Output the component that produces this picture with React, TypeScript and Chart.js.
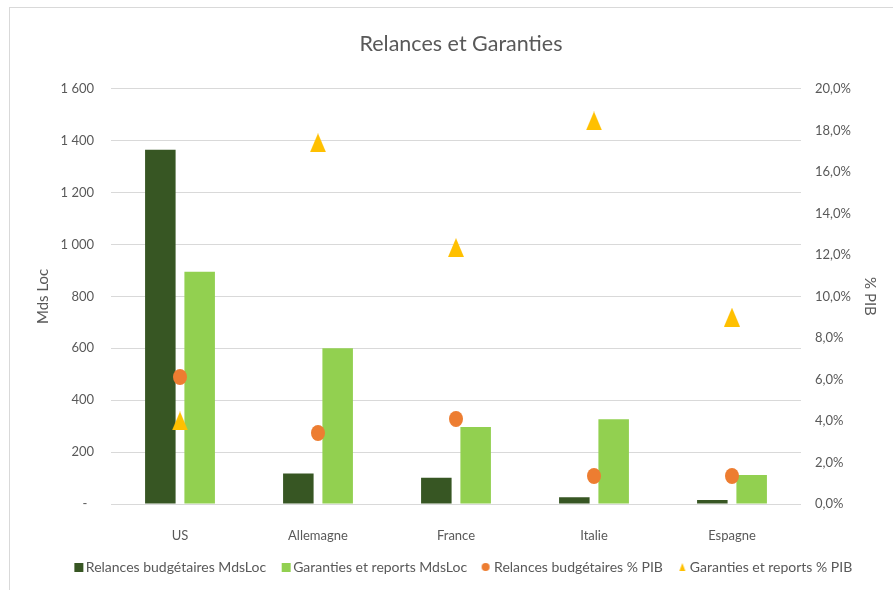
import React, { useEffect, useRef } from "react";
import { Chart, registerables } from "chart.js";

Chart.register(...registerables);

const categories = ["US", "Allemagne", "France", "Italie", "Espagne"];
const relancesMds = [1365, 118, 101, 26, 15];
const garantiesMds = [895, 600, 297, 327, 112];
const relancesPct = [6.12, 3.42, 4.1, 1.35, 1.35];
const garantiesPct = [4.0, 17.4, 12.35, 18.45, 9.0];
const seriesLabels = [
  "Relances budgétaires MdsLoc",
  "Garanties et reports MdsLoc",
  "Relances budgétaires % PIB",
  "Garanties et reports % PIB",
];
const chartTitle = "Relances et Garanties";
const leftTitle = "Mds Loc";
const rightTitle = "% PIB";
const leftMax = 1600;
const leftStep = 200;
const rightMax = 20;
const rightStep = 2;

const FONT = "Lato, 'Noto Sans', sans-serif";
const TEXT = "#595959";
const GRID = "#d9d9d9";
const DARK = "#375623";
const LIGHT = "#92D050";
const ORANGE = "#ED7D31";
const YELLOW = "#FFC000";

function makeCanvas(w: number, h: number, draw: (ctx: CanvasRenderingContext2D) => void) {
  const c = document.createElement("canvas");
  c.width = w;
  c.height = h;
  const ctx = c.getContext("2d")!;
  draw(ctx);
  return c;
}

function fmtLeft(v: number) {
  if (v === 0) return "-  ";
  if (v >= 1000) return Math.floor(v / 1000) + " " + String(v % 1000).padStart(3, "0");
  return String(v);
}

export default function App() {
  const ref = useRef<HTMLCanvasElement>(null);

  useEffect(() => {
    const triMarker = makeCanvas(16, 19, (ctx) => {
      ctx.fillStyle = YELLOW;
      ctx.beginPath();
      ctx.moveTo(8, 0);
      ctx.lineTo(16, 19);
      ctx.lineTo(0, 19);
      ctx.closePath();
      ctx.fill();
    });
    const dotMarker = makeCanvas(14, 16, (ctx) => {
      ctx.fillStyle = ORANGE;
      ctx.beginPath();
      ctx.ellipse(7, 8, 7, 8, 0, 0, Math.PI * 2);
      ctx.fill();
    });
    const legendStyles = [
      makeCanvas(20, 9, (ctx) => {
        ctx.fillStyle = DARK;
        ctx.fillRect(10, 0, 9, 9);
      }),
      makeCanvas(20, 9, (ctx) => {
        ctx.fillStyle = LIGHT;
        ctx.fillRect(10, 0, 9, 9);
      }),
      makeCanvas(16, 8, (ctx) => {
        ctx.fillStyle = ORANGE;
        ctx.beginPath();
        ctx.arc(11, 4, 4, 0, Math.PI * 2);
        ctx.fill();
      }),
      makeCanvas(16, 8, (ctx) => {
        ctx.fillStyle = YELLOW;
        ctx.beginPath();
        ctx.moveTo(12, 0);
        ctx.lineTo(15, 8);
        ctx.lineTo(9, 8);
        ctx.closePath();
        ctx.fill();
      }),
    ];

    const chart = new Chart(ref.current!, {
      type: "bar",
      data: {
        labels: categories,
        datasets: [
          {
            type: "bar",
            label: seriesLabels[0],
            data: relancesMds,
            backgroundColor: DARK,
            yAxisID: "y",
            order: 2,
            categoryPercentage: 0.57,
            barPercentage: 0.776,
          },
          {
            type: "bar",
            label: seriesLabels[1],
            data: garantiesMds,
            backgroundColor: LIGHT,
            yAxisID: "y",
            order: 2,
            categoryPercentage: 0.57,
            barPercentage: 0.776,
          },
          {
            type: "line",
            label: seriesLabels[2],
            data: relancesPct,
            yAxisID: "y1",
            showLine: false,
            pointStyle: dotMarker as any,
            pointRadius: 8,
            pointHoverRadius: 8,
            backgroundColor: ORANGE,
            borderColor: ORANGE,
            order: 1,
          },
          {
            type: "line",
            label: seriesLabels[3],
            data: garantiesPct,
            yAxisID: "y1",
            showLine: false,
            pointStyle: triMarker as any,
            pointRadius: 8,
            pointHoverRadius: 8,
            backgroundColor: YELLOW,
            borderColor: YELLOW,
            order: 1,
          },
        ] as any,
      },
      options: {
        responsive: false,
        animation: false,
        devicePixelRatio: 1,
        layout: { padding: { left: 29, right: 0, top: 0, bottom: 6 } },
        plugins: {
          tooltip: { enabled: false },
          title: {
            display: true,
            text: chartTitle,
            color: TEXT,
            font: { family: FONT, size: 21.5, weight: "normal" as any },
            padding: { top: 31, bottom: 32 },
          },
          legend: {
            display: true,
            position: "bottom",
            labels: {
              usePointStyle: true,
              boxWidth: 9,
              boxHeight: 9,
              padding: 11,
              color: TEXT,
              font: { family: FONT, size: 14 },
              sort: (a: any, b: any) => a.datasetIndex - b.datasetIndex,
              generateLabels: (c: any) => {
                const items = (Chart.defaults.plugins.legend.labels as any).generateLabels(c);
                return items.map((it: any) => ({
                  ...it,
                  pointStyle: legendStyles[it.datasetIndex],
                  lineWidth: 0,
                  strokeStyle: "rgba(0,0,0,0)",
                }));
              },
            },
          },
        },
        scales: {
          x: {
            type: "category",
            grid: { display: false },
            border: { display: false },
            ticks: { color: TEXT, font: { family: FONT, size: 13 }, padding: 16 },
            afterFit: (s: any) => {
              s.height = 45;
            },
          },
          y: {
            type: "linear",
            position: "left",
            min: 0,
            max: leftMax,
            grid: { color: GRID, lineWidth: 1, drawTicks: false },
            border: { display: false },
            ticks: {
              stepSize: leftStep,
              color: TEXT,
              font: { family: FONT, size: 13 },
              padding: 17,
              callback: (v: any) => fmtLeft(Number(v)),
            },
            title: {
              display: true,
              text: leftTitle,
              color: TEXT,
              font: { family: FONT, size: 15 },
              padding: { top: 5, bottom: 0 },
            },
            afterFit: (s: any) => {
              s.width = 82;
            },
          },
          y1: {
            type: "linear",
            position: "right",
            min: 0,
            max: rightMax,
            grid: { drawOnChartArea: false, drawTicks: false },
            border: { display: false },
            ticks: {
              stepSize: rightStep,
              color: TEXT,
              font: { family: FONT, size: 13 },
              padding: 14,
              callback: (v: any) => Number(v).toFixed(1).replace(".", ",") + "%",
            },
            title: {
              display: true,
              text: rightTitle,
              color: TEXT,
              font: { family: FONT, size: 15 },
              padding: { top: 14, bottom: 0 },
            },
            afterFit: (s: any) => {
              s.width = 92;
            },
          },
        },
      } as any,
    });
    return () => chart.destroy();
  }, []);

  return (
    <div style={{ position: "fixed", left: 0, top: 0, width: 893, height: 590, background: "#fff", overflow: "hidden" }}>
      <div
        style={{
          position: "absolute",
          left: 9,
          top: 7,
          width: 920,
          height: 620,
          border: "1px solid #d9d9d9",
          boxSizing: "border-box",
        }}
      />
      <canvas
        ref={ref}
        width={893}
        height={590}
        style={{ position: "absolute", left: 0, top: 0, width: 893, height: 590 }}
      />
    </div>
  );
}
